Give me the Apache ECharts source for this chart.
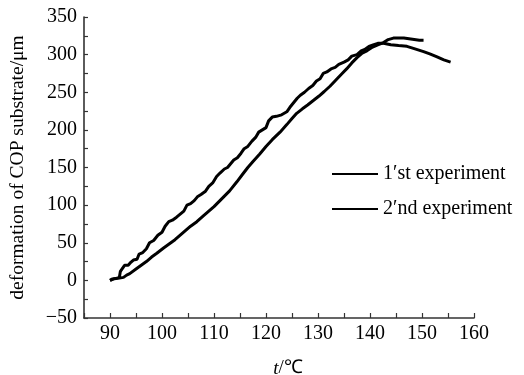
<!DOCTYPE html>
<html>
<head>
<meta charset="utf-8">
<script src="https://cdn.jsdelivr.net/npm/echarts@6/dist/echarts.min.js"></script>
<style>
  html, body { margin: 0; padding: 0; background: #fff; }
  #chart { width: 524px; height: 375px; }
</style>
</head>
<body>
<div id="chart"></div>
<script>
// 图例名称
var seriesNames = ['1\u2032st experiment', '2\u2032nd experiment'];

// 第一条: 锯齿状的那条, 最后往下走到 155
var exp1 = [
  [90.0, 0], [90.5, 2], [91.3, 3], [91.8, 4], [92.0, 12], [92.3, 15], [92.8, 20], [93.5, 20],
  [94.0, 24], [94.5, 27], [95.2, 28], [95.6, 35], [96.3, 37], [97.0, 42], [97.6, 50], [98.4, 53],
  [99.2, 60], [100.0, 64], [100.6, 72], [101.3, 78], [102.0, 80], [102.8, 84], [103.5, 88],
  [104.2, 92], [104.8, 100], [105.5, 102], [106.2, 106], [106.8, 111], [107.5, 114], [108.3, 118],
  [109.0, 125], [109.8, 130], [110.5, 138], [111.2, 143], [112.0, 148], [112.6, 150], [113.2, 155],
  [113.8, 160], [114.5, 163], [115.2, 169], [115.8, 175], [116.5, 178], [117.3, 185], [118.0, 190],
  [118.6, 197], [119.3, 200], [120.0, 203], [120.5, 212], [121.2, 217], [122.0, 218], [123.0, 220],
  [124.0, 224], [124.6, 230], [125.3, 236], [126.0, 242], [126.6, 246], [127.4, 250], [128.2, 255],
  [129.0, 259], [129.7, 265], [130.4, 268], [131.0, 275], [131.7, 277], [132.5, 281], [133.3, 283],
  [134.0, 287], [135.0, 290], [135.8, 293], [136.5, 298], [137.5, 300], [138.3, 305], [139.0, 307],
  [139.8, 311], [140.6, 313], [141.5, 315], [142.6, 315], [144.0, 313], [145.5, 312], [147.1, 311],
  [148.5, 308], [150.3, 304], [151.5, 301], [152.9, 297], [154.2, 293], [155.5, 290]
];

// 第二条: 比较平滑, 顶点约 322, 到 150 结束
var exp2 = [
  [90.0, 0], [90.8, 2], [91.8, 3], [92.6, 4], [93.2, 7], [93.8, 9], [95.0, 15], [96.0, 20],
  [97.0, 25], [98.0, 31], [99.0, 36], [100.3, 43], [101.5, 49], [102.5, 54], [103.5, 60],
  [104.5, 66], [105.5, 72], [106.7, 78], [108.0, 86], [109.0, 92], [110.0, 98], [111.0, 105],
  [112.0, 112], [113.0, 119], [114.4, 131], [115.5, 141], [116.5, 150], [117.5, 158], [118.8, 168],
  [120.0, 178], [121.2, 187], [122.7, 197], [124.0, 207], [125.0, 215], [125.9, 222], [127.0, 228],
  [128.0, 233], [129.1, 239], [130.2, 245], [131.2, 251], [132.3, 258], [133.4, 266], [134.5, 274],
  [135.5, 281], [136.5, 289], [137.5, 296], [138.5, 302], [139.4, 305], [140.5, 310], [141.5, 313],
  [142.6, 316], [143.5, 320], [144.5, 322], [145.5, 322], [146.5, 322], [147.5, 321], [148.5, 320],
  [149.5, 319], [150.3, 319]
];

var xMin = 85, xMax = 160, xStep = 5;
var yMin = -50, yMax = 350, yStep = 25;

var font = '"Liberation Serif", "Times New Roman", serif';
var axisColor = '#333';

var myChart = echarts.init(document.getElementById('chart'), null, { renderer: 'canvas' });

var series = [exp1, exp2].map(function (d, i) {
  return {
    name: seriesNames[i],
    type: 'line',
    data: d,
    showSymbol: false,
    symbol: 'none',
    smooth: false,
    lineStyle: { color: '#000', width: 3 },
    itemStyle: { color: '#000' },
    z: 3
  };
});

var opt = {
  backgroundColor: '#fff',
  animation: false,
  textStyle: { fontFamily: font, color: '#000' },
  // v6 默认会把标签收进容器里, 这里关掉, 按像素对齐
  grid: { left: 84, right: 50, top: 17, bottom: 57, containLabel: false, outerBoundsMode: 'none' },
  legend: {
    orient: 'vertical',
    left: 327,
    top: 159,
    itemWidth: 46,
    itemHeight: 2,
    itemGap: 15,
    icon: 'rect',
    data: seriesNames,
    textStyle: { fontFamily: font, fontSize: 20, color: '#000', lineHeight: 20 }
  },
  xAxis: {
    type: 'value',
    min: xMin,
    max: xMax,
    interval: xStep,
    name: '{i|t}/\u2103',
    nameLocation: 'middle',
    nameGap: 41,
    nameTextStyle: {
      fontFamily: font, fontSize: 19, color: '#000', padding: [0, 0, 0, 18],
      rich: { i: { fontFamily: font, fontSize: 19, fontStyle: 'italic', color: '#000' } }
    },
    axisLine: { onZero: false, lineStyle: { color: axisColor, width: 1.6 } },
    axisTick: { inside: true, length: 5, lineStyle: { color: axisColor, width: 1.2 } },
    axisLabel: {
      fontFamily: font, fontSize: 20, color: '#000', margin: 6,
      formatter: function (v) { return v % 10 === 0 ? String(v) : ''; }
    },
    splitLine: { show: false }
  },
  yAxis: {
    type: 'value',
    min: yMin,
    max: yMax,
    interval: yStep,
    name: 'deformation of COP substrate/\u03bcm',
    nameLocation: 'middle',
    nameGap: 56,
    nameTextStyle: { fontFamily: font, fontSize: 19.5, color: '#000' },
    axisLine: { onZero: false, lineStyle: { color: axisColor, width: 1.6 } },
    axisTick: { inside: true, length: 4, lineStyle: { color: axisColor, width: 1.2 } },
    axisLabel: {
      fontFamily: font, fontSize: 20, color: '#000', margin: 7,
      formatter: function (v) {
        if (v % 50 !== 0) return '';
        return v < 0 ? '\u2212' + Math.abs(v) : String(v);
      }
    },
    splitLine: { show: false }
  },
  series: series
};

myChart.setOption(opt);
</script>
</body>
</html>
